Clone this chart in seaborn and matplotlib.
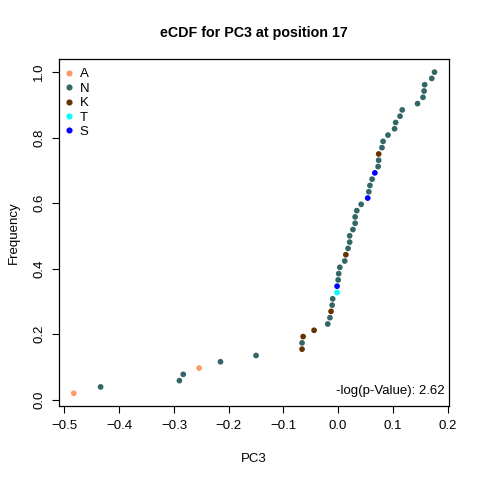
import matplotlib
matplotlib.use("Agg")
import matplotlib.pyplot as plt
import pandas as pd
import seaborn as sns

# sorted PC3 values at position 17, with the residue of each sample
pc3 = [-0.483, -0.434, -0.290, -0.283, -0.254, -0.215, -0.150, -0.066, -0.066, -0.064,
       -0.044, -0.019, -0.015, -0.013, -0.011, -0.010, -0.002, -0.002, 0.000, 0.001,
       0.003, 0.012, 0.014, 0.018, 0.021, 0.021, 0.027, 0.031, 0.031, 0.034,
       0.042, 0.054, 0.056, 0.058, 0.062, 0.067, 0.073, 0.074, 0.074, 0.080,
       0.082, 0.091, 0.103, 0.105, 0.113, 0.117, 0.145, 0.155, 0.157, 0.158,
       0.171, 0.176]
residue = ["A", "N", "N", "N", "A", "N", "N", "K", "N", "K",
           "K", "N", "N", "K", "N", "N", "T", "S", "N", "N",
           "N", "N", "K", "N", "N", "N", "N", "N", "N", "N",
           "N", "S", "N", "N", "N", "S", "N", "N", "K", "N",
           "N", "N", "N", "N", "N", "N", "N", "N", "N", "N",
           "N", "N"]
levels = ["A", "N", "K", "T", "S"]
colors = ["#FF9966", "#336666", "#663300", "#00FFFF", "#0000FF"]
pvalue_label = "-log(p-Value): 2.62"

n = len(pc3)
df = pd.DataFrame({"PC3": pc3, "Frequency": [(i + 1) / n for i in range(n)], "res": residue})

sns.set_style("ticks")
plt.rcParams["font.family"] = ["Liberation Sans", "DejaVu Sans"]
plt.rcParams["text.color"] = "black"
plt.rcParams["axes.labelcolor"] = "black"
fs = 9.5

fig = plt.figure(figsize=(4.8, 4.8), dpi=100)
ax = fig.add_axes([0.1236, 0.154, 0.8117, 0.7225])

sns.scatterplot(data=df, x="PC3", y="Frequency", hue="res", hue_order=levels,
                palette=dict(zip(levels, colors)), s=17, linewidth=0, ax=ax, legend=False)

ax.margins(0.04)
ax.set_xticks([-0.5, -0.4, -0.3, -0.2, -0.1, 0.0, 0.1, 0.2])
ax.set_yticks([0.0, 0.2, 0.4, 0.6, 0.8, 1.0])
ax.set_yticklabels(["0.0", "0.2", "0.4", "0.6", "0.8", "1.0"], rotation=90, va="center")
ax.tick_params(direction="out", length=5, width=0.8, color="black", labelcolor="black",
               labelsize=fs, pad=5)
for sp in ax.spines.values():
    sp.set_visible(True)
    sp.set_color("black")
    sp.set_linewidth(0.9)

ax.set_xlabel("PC3", fontsize=fs, labelpad=15, color="black")
ax.set_ylabel("Frequency", fontsize=fs, labelpad=10, color="black")
ax.set_title("eCDF for PC3 at position 17", fontsize=10.3, fontweight="bold", pad=16, color="black")

# legend in R style: no frame, small dots
handles = [plt.Line2D([], [], marker="o", linestyle="", color=c, markersize=3.4) for c in colors]
ax.legend(handles, levels, loc="upper left", bbox_to_anchor=(0.011, 0.975), frameon=False,
          handletextpad=0.43, labelspacing=0.17, borderaxespad=0, handlelength=0.8,
          borderpad=0, fontsize=fs, labelcolor="black")

ax.text(0.99, 0.025, pvalue_label, transform=ax.transAxes, ha="right", va="bottom",
        fontsize=fs, color="black")

fig.savefig("out.png", dpi=100)
